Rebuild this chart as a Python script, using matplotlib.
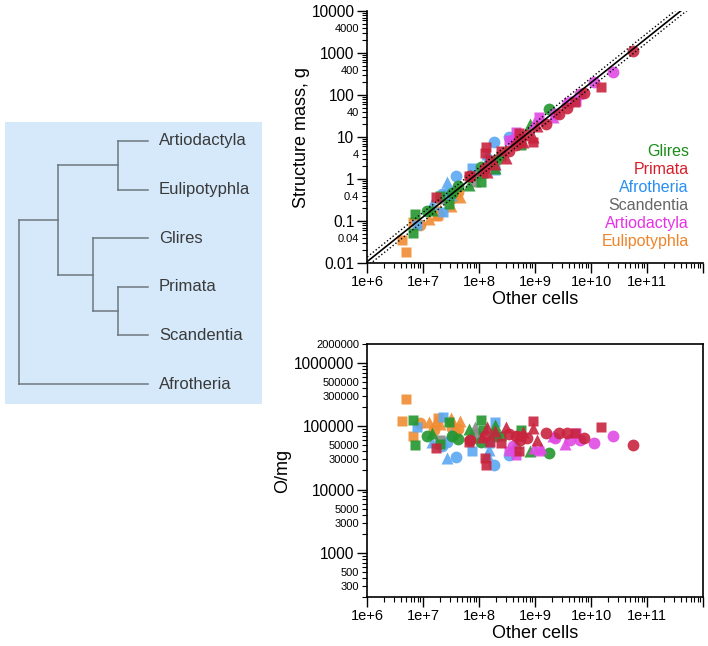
# cell counts vs structure mass, with the clade tree on the left

import numpy as np
import matplotlib.pyplot as plt
from matplotlib import ticker

plt.rcParams['font.family'] = ['Liberation Sans', 'DejaVu Sans']

groups = ['Glires', 'Primata', 'Afrotheria', 'Scandentia', 'Artiodactyla', 'Eulipotyphla']
point_colors = {'Glires': '#23962e', 'Primata': '#c8243e', 'Afrotheria': '#5aa8f2',
                'Scandentia': '#8a8a8a', 'Artiodactyla': '#e04ae4', 'Eulipotyphla': '#f08c34'}
label_colors = {'Glires': '#1a8c1a', 'Primata': '#d81e2a', 'Afrotheria': '#2a8ff0',
                'Scandentia': '#666666', 'Artiodactyla': '#e632e6', 'Eulipotyphla': '#f0842a'}
markers = {'c': 'o', 's': 's', 't': '^'}
marker_size = {'c': 8.5, 's': 7.0, 't': 8.5}

# other cells, O/mg, marker (c: circle, s: square, t: triangle)
glires_cells = [6.6e6, 7.3e6, 1.18e7, 1.45e7, 2.0e7, 2.9e7, 3.3e7, 4.3e7, 6.6e7, 7.0e7, 1.09e8,
                1.1e8, 1.2e8, 1.8e8, 1.95e8, 2.0e8, 2.5e8, 4.5e8, 5.6e8, 8.0e8, 1.78e9]
glires_dens = [1.26e5, 5.0e4, 6.9e4, 7.9e4, 5.2e4, 1.16e5, 7.0e4, 6.2e4, 9.0e4, 6.0e4, 1.26e5,
               5.7e4, 8.7e4, 8.0e4, 1.05e5, 7.0e4, 7.0e4, 5.5e4, 8.7e4, 4.0e4, 3.8e4]
glires_shape = 's s c t s s c c t c s c s t t c s t s t c'.split()

primata_cells = [1.7e7, 6.6e7, 7.0e7, 1.13e8, 1.29e8, 1.3e8, 1.35e8, 1.38e8, 1.58e8, 1.9e8,
                 2.5e8, 3.0e8, 3.5e8, 4.5e8, 5.1e8, 5.5e8, 5.5e8, 6.0e8, 7.2e8, 9.1e8, 9.1e8,
                 1.1e9, 1.6e9, 2.7e9, 3.7e9, 5.2e9, 7.4e9, 1.5e10, 5.7e10]
primata_dens = [4.5e4, 5.7e4, 6.0e4, 6.8e4, 3.1e4, 7.0e4, 2.4e4, 9.6e4, 5.7e4, 8.5e4,
                5.5e4, 9.6e4, 7.5e4, 6.9e4, 4.05e4, 6.9e4, 6.0e4, 8.0e4, 6.5e4, 1.22e5, 9.3e4,
                6.0e4, 7.9e4, 7.7e4, 7.7e4, 7.7e4, 6.5e4, 9.9e4, 5.0e4]
primata_shape = 's s c t s c s t s t s t c c s s c t c s t t c c c s c s c'.split()

afro_cells = [7.8e6, 1.45e7, 2.2e7, 2.3e7, 2.7e7, 2.7e7, 3.1e7, 3.9e7, 7.6e7, 1.4e8, 1.5e8,
              1.5e8, 1.82e8, 1.95e8, 3.5e8]
afro_dens = [9.6e4, 5.7e4, 4.9e4, 1.39e5, 5.7e4, 3.2e4, 7.5e4, 3.3e4, 4.05e4, 3.6e4, 4.2e4,
             5.5e4, 2.4e4, 1.16e5, 3.5e4]
afro_shape = 's t c s c t t c s t t s c s c'.split()

scand_cells = [2.0e7, 8.5e7, 9.0e7]
scand_dens = [6.0e4, 9.6e4, 7.5e4]
scand_shape = ['s', 't', 'c']

artio_cells = [3.4e8, 4.0e8, 4.6e8, 9.5e8, 1.2e9, 1.26e9, 2.1e9, 2.3e9, 3.5e9, 4.2e9, 5.5e9,
               6.3e9, 1.12e10, 2.5e10]
artio_dens = [4.0e4, 4.8e4, 3.5e4, 4.5e4, 4.0e4, 4.6e4, 6.9e4, 6.5e4, 5.2e4, 6.0e4, 7.7e4,
              6.0e4, 5.5e4, 6.9e4]
artio_shape = 's c s t s t t c t c s c c c'.split()

euli_cells = [4.3e6, 5.0e6, 6.6e6, 9.0e6, 1.26e7, 1.55e7, 1.7e7, 1.86e7, 2.0e7, 3.1e7, 3.3e7,
              3.9e7, 4.3e7, 4.6e7]
euli_dens = [1.22e5, 2.7e5, 7.0e4, 1.12e5, 1.15e5, 8.7e4, 1.2e5, 1.37e5, 1.1e5, 1.35e5, 9.3e4,
             8.2e4, 9.0e4, 1.23e5]
euli_shape = 's s s c t c t s t t c s c t'.split()

data = {'Glires': (glires_cells, glires_dens, glires_shape),
        'Primata': (primata_cells, primata_dens, primata_shape),
        'Afrotheria': (afro_cells, afro_dens, afro_shape),
        'Scandentia': (scand_cells, scand_dens, scand_shape),
        'Artiodactyla': (artio_cells, artio_dens, artio_shape),
        'Eulipotyphla': (euli_cells, euli_dens, euli_shape)}
draw_order = ['Eulipotyphla', 'Afrotheria', 'Scandentia', 'Glires', 'Artiodactyla', 'Primata']

# power law fit: log10(mass) = a + b*log10(cells), dotted band +/- band
fit_a, fit_b, fit_band = -8.366, 1.066, 0.11

# tree: (node position, children), leaves are names
tree = (0.0, [(0.30, [(0.77, ['Artiodactyla', 'Eulipotyphla']),
                      (0.57, ['Glires', (0.77, ['Primata', 'Scandentia'])])]),
              'Afrotheria'])
leaf_order = ['Artiodactyla', 'Eulipotyphla', 'Glires', 'Primata', 'Scandentia', 'Afrotheria']


def draw_clade(ax, node, leaf_y):
    if isinstance(node, str):
        return 1.0, leaf_y[node]
    x, kids = node
    ys = []
    for k in kids:
        kx, ky = draw_clade(ax, k, leaf_y)
        ax.plot([x, kx], [ky, ky], color='#6d7880', lw=1.1)
        ys.append(ky)
    ax.plot([x, x], [min(ys), max(ys)], color='#6d7880', lw=1.1)
    return x, (min(ys) + max(ys)) / 2


def tick_label(v, pos):
    return f'{v:.0f}' if v >= 1 else f'{v:g}'


def setup_axes(ax, ylim, minor_labels):
    ax.set_xscale('log')
    ax.set_yscale('log')
    ax.set_xlim(1e6, 1e12)
    ax.set_ylim(*ylim)
    ax.xaxis.set_major_locator(ticker.LogLocator(base=10, numticks=20))
    ax.xaxis.set_minor_locator(ticker.LogLocator(base=10, subs=np.arange(2, 10), numticks=20))
    ax.xaxis.set_major_formatter(ticker.FuncFormatter(
        lambda v, p: f'1e+{round(np.log10(v))}' if v < 5e11 else ''))
    ax.xaxis.set_minor_formatter(ticker.NullFormatter())
    ax.yaxis.set_major_locator(ticker.LogLocator(base=10, numticks=20))
    ax.yaxis.set_minor_locator(ticker.LogLocator(base=10, subs=np.arange(2, 10), numticks=20))
    ax.yaxis.set_major_formatter(ticker.FuncFormatter(tick_label))
    ax.yaxis.set_minor_formatter(ticker.FuncFormatter(
        lambda v, p: tick_label(v, p) if any(np.isclose(v, m, rtol=1e-3) for m in minor_labels) else ''))
    ax.tick_params(which='major', length=7, width=1.0, pad=2)
    ax.tick_params(which='minor', length=3.5, width=0.8, pad=2)
    ax.tick_params(axis='x', which='major', labelsize=10.5)
    ax.tick_params(axis='y', which='major', labelsize=11.2)
    ax.tick_params(axis='y', which='minor', labelsize=8)
    for s in ax.spines.values():
        s.set_linewidth(1.2)
    ax.set_xlabel('Other cells', fontsize=13, labelpad=1)


def scatter_groups(ax, values):
    for g in draw_order:
        cells, dens, shape = data[g]
        cells = np.array(cells)
        vals = np.array(values(cells, np.array(dens)))
        shape = np.array(shape)
        for key, m in markers.items():
            sel = shape == key
            ax.plot(cells[sel], vals[sel], ls='none', marker=m, ms=marker_size[key],
                    mec='none', mfc=point_colors[g], alpha=0.9)


fig = plt.figure(figsize=(7.08, 6.46), dpi=100)

# tree panel
tax = fig.add_axes([5 / 708, 1 - 404 / 646, 257 / 708, 282 / 646])
tax.set_facecolor('#d5e9fb')
tax.set_xlim(-0.1085, 1.884)
tax.set_ylim(5.41, -0.39)
for s in tax.spines.values():
    s.set_visible(False)
tax.set_xticks([])
tax.set_yticks([])
leaf_y = {name: i for i, name in enumerate(leaf_order)}
draw_clade(tax, tree, leaf_y)
for name, y in leaf_y.items():
    tax.text(1.085, y, name, fontsize=12, color='#3a3a3a', va='center', ha='left')

# structure mass
ax1 = fig.add_axes([367 / 708, 1 - 263 / 646, 336 / 708, 252 / 646])
scatter_groups(ax1, lambda c, d: c / d / 1000.0)
xs = np.logspace(5.5, 12.5, 50)
ax1.plot(xs, 10 ** (fit_a + fit_b * np.log10(xs)), color='black', lw=1.2)
for off in (-fit_band, fit_band):
    ax1.plot(xs, 10 ** (fit_a + off + fit_b * np.log10(xs)), color='black', lw=1.0,
             ls=(0, (1, 1.6)))
setup_axes(ax1, (0.01, 10000), [4e3, 4e2, 40, 4, 0.4, 0.04])
ax1.spines['top'].set_visible(False)
ax1.spines['right'].set_visible(False)
ax1.set_ylabel('Structure mass, g', fontsize=13, labelpad=1)
for i, g in enumerate(groups):
    ax1.text(0.958, 0.444 - i * 0.0714, g, transform=ax1.transAxes, ha='right', va='center',
             fontsize=11.5, color=label_colors[g])

# other cells per mg
ax2 = fig.add_axes([367 / 708, 1 - 597 / 646, 336 / 708, 253 / 646])
scatter_groups(ax2, lambda c, d: d)
setup_axes(ax2, (200, 2e6), [2e6, 5e5, 3e5, 5e4, 3e4, 5e3, 3e3, 500, 300])
ax2.set_ylabel('O/mg', fontsize=13, labelpad=2)

fig.savefig('out.png', dpi=100)
